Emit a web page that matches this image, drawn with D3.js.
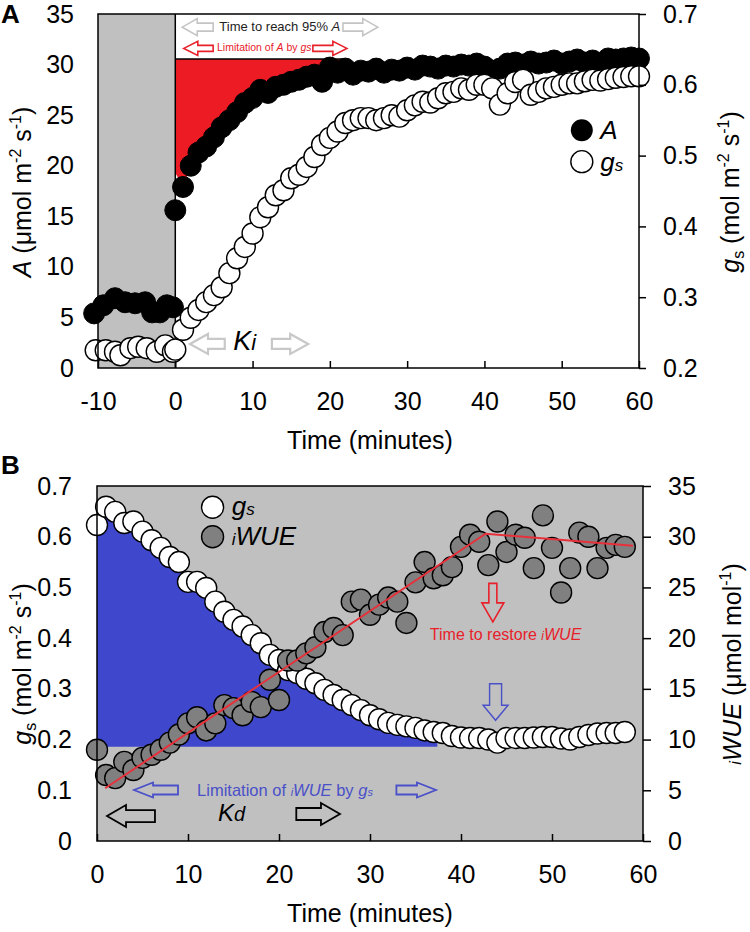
<!DOCTYPE html>
<html>
<head>
<meta charset="utf-8">
<script src="https://cdn.jsdelivr.net/npm/d3@7"></script>
<style>
body { margin: 0; background: #fff; }
svg text { font-family: "Liberation Sans", Arial, sans-serif; }
</style>
</head>
<body>
<svg id="chart"></svg>
<script>
// ---- panel A: light induction (A and gs) ----
const preTimeA = [-10.5, -9.3, -7.8, -6.5, -5.2, -3.9, -3.0, -2.0, -1.1, -0.3];
const preA = [5.4, 6.2, 6.9, 6.5, 6.4, 6.5, 5.5, 5.5, 6.2, 6.0];
const preTimeGs = [-10.3, -9.0, -7.8, -7.1, -5.8, -4.8, -3.7, -2.4, -1.3, -0.3];
const preGs = [0.225, 0.225, 0.223, 0.218, 0.228, 0.230, 0.228, 0.223, 0.232, 0.223];
const minutesA = d3.range(0, 61);
const assimA = [15.6, 17.9, 20.0, 21.3, 21.9, 22.8, 23.8, 24.5, 25.3, 26.2,
  26.7, 27.5, 27.2, 27.8, 28.0, 28.3, 28.5, 28.8, 29.0, 28.3,
  29.7, 29.2, 29.6, 29.0, 29.4, 29.3, 29.6, 29.2, 29.5, 29.4,
  29.7, 29.5, 29.9, 29.8, 29.6, 29.9, 29.8, 30.0, 29.9, 30.1,
  29.8, 29.4, 29.6, 30.1, 30.2, 30.0, 30.3, 30.1, 30.2, 30.4,
  30.1, 30.3, 30.5, 30.2, 30.4, 30.1, 30.6, 30.5, 30.6, 30.7, 30.6];
const gsA = [0.226, 0.254, 0.271, 0.282, 0.293, 0.303, 0.314, 0.334, 0.355, 0.371,
  0.390, 0.413, 0.427, 0.444, 0.451, 0.468, 0.473, 0.484, 0.498, 0.515,
  0.525, 0.534, 0.546, 0.550, 0.553, 0.553, 0.550, 0.553, 0.557, 0.555,
  0.564, 0.571, 0.576, 0.575, 0.581, 0.588, 0.590, 0.595, 0.593, 0.600,
  0.600, 0.595, 0.572, 0.588, 0.604, 0.607, 0.586, 0.590, 0.595, 0.597,
  0.600, 0.602, 0.602, 0.605, 0.607, 0.606, 0.608, 0.610, 0.611, 0.612, 0.612];
const a95 = 30.55;      // 95% of steady-state A
const limitEndA = 22;   // end of red limitation area (min)

// ---- panel B: closure (gs and iWUE) ----
const minutesB = d3.range(0, 59);
const gsB = [0.623, 0.659, 0.649, 0.627, 0.630, 0.610, 0.593, 0.578, 0.560, 0.550,
  0.511, 0.511, 0.499, 0.472, 0.452, 0.436, 0.423, 0.406, 0.390, 0.367,
  0.357, 0.337, 0.331, 0.320, 0.311, 0.298, 0.288, 0.278, 0.268, 0.258,
  0.248, 0.240, 0.233, 0.229, 0.226, 0.223, 0.218, 0.215, 0.213, 0.207,
  0.204, 0.203, 0.203, 0.200, 0.194, 0.203, 0.203, 0.203, 0.204, 0.205,
  0.205, 0.202, 0.200, 0.205, 0.209, 0.212, 0.213, 0.213, 0.215];
const wueB = [9.0, 6.5, 6.2, 7.8, 7.0, 8.2, 8.5, 9.0, 9.7, 10.5,
  11.6, 12.2, 10.9, 11.6, 13.4, 13.1, 12.4, 13.7, 13.2, 15.9,
  13.9, 17.8, 17.8, 18.5, 19.1, 20.6, 21.0, 20.3, 23.6, 23.8,
  22.3, 23.3, 24.0, 23.6, 21.5, 25.5, 27.5, 25.9, 26.2, 27.0,
  29.0, 30.2, 29.5, 27.2, 31.5, 28.5, 30.2, 29.9, 26.9, 32.1,
  28.9, 24.5, 26.9, 30.4, 30.0, 26.9, 28.9, 29.2, 29.0];
const fitTime = [0.9, 42.7, 58.9];
const fitWue = [5.2, 30.3, 29.1];
const blueEnd = 37.4;
const blueFloor = 0.186;

const ticksA = d3.range(0, 36, 5);
const ticksGsA = [0.2, 0.3, 0.4, 0.5, 0.6, 0.7];
const ticksTimeA = [-10, 0, 10, 20, 30, 40, 50, 60];
const ticksGsB = [0, 0.1, 0.2, 0.3, 0.4, 0.5, 0.6, 0.7];
const ticksWue = d3.range(0, 36, 5);
const ticksTimeB = [0, 10, 20, 30, 40, 50, 60];

const W = 750, H = 932;
const svg = d3.select("#chart").attr("width", W).attr("height", H);

const RED = "#e8202a", BLUE = "#4a50c8", GREY_BG = "#c0c0c0";

// scales
const xA = d3.scaleLinear().domain([-10, 60]).range([98, 639]);
const yA = d3.scaleLinear().domain([0, 35]).range([368, 14]);
const yGsA = d3.scaleLinear().domain([0.2, 0.7]).range([368, 14]);
const xB = d3.scaleLinear().domain([0, 60]).range([97, 643]);
const yGsB = d3.scaleLinear().domain([0, 0.7]).range([841, 486]);
const yW = d3.scaleLinear().domain([0, 35]).range([841, 486]);

// text with italic / super / subscript parts
function rich(sel, parts, size) {
  let shift = 0;
  parts.forEach(p => {
    const target = p.sup ? -size * 0.4 : p.sub ? size * 0.18 : 0;
    sel.append("tspan")
      .attr("dy", target - shift)
      .attr("font-size", p.sup || p.sub ? size * 0.64 : (p.size || size))
      .attr("font-style", p.it ? "italic" : null)
      .text(p.t);
    shift = target;
  });
  return sel;
}

function hArrow(g, x1, x2, y, sh, hh, hl, color, sw) {
  const s = x2 > x1 ? 1 : -1, n = x2 - s * hl;
  const pts = [[x1, y - sh / 2], [n, y - sh / 2], [n, y - hh / 2], [x2, y],
    [n, y + hh / 2], [n, y + sh / 2], [x1, y + sh / 2]];
  g.append("path").attr("d", "M" + pts.join("L") + "Z")
    .attr("fill", "none").attr("stroke", color).attr("stroke-width", sw);
}
function vArrow(g, x, y1, y2, sw_, hw, hl, color, sw) {
  const n = y2 - hl;
  const pts = [[x - sw_ / 2, y1], [x - sw_ / 2, n], [x - hw / 2, n], [x, y2],
    [x + hw / 2, n], [x + sw_ / 2, n], [x + sw_ / 2, y1]];
  g.append("path").attr("d", "M" + pts.join("L") + "Z")
    .attr("fill", "none").attr("stroke", color).attr("stroke-width", sw);
}

function styleAxis(g) {
  g.select(".domain").remove();
  g.selectAll(".tick line").attr("stroke", "#000").attr("stroke-width", 1.5);
  g.selectAll(".tick text").attr("font-size", 25).attr("fill", "#000")
    .attr("font-family", "'Liberation Sans', Arial, sans-serif");
}
const plain = d => String(d);   // hyphen minus, like the original

// ================= Panel A =================
const gA = svg.append("g");
gA.append("rect").attr("x", xA(-10)).attr("y", yA(35))
  .attr("width", xA(0) - xA(-10)).attr("height", yA(0) - yA(35)).attr("fill", GREY_BG);

// red limitation area
const redData = minutesA.map((t, i) => ({ t, a: assimA[i] }))
  .filter(d => d.t >= 1 && d.t <= limitEndA);
redData.unshift({ t: 0, a: assimA[1] + 1.4 });
gA.append("path").datum(redData)
  .attr("fill", "#ed1c24")
  .attr("d", d3.area().x(d => xA(d.t)).y0(d => yA(Math.min(d.a, a95))).y1(yA(a95)));
gA.append("line").attr("x1", xA(0)).attr("x2", xA(limitEndA))
  .attr("y1", yA(a95)).attr("y2", yA(a95)).attr("stroke", "#000").attr("stroke-width", 1.5);
gA.append("line").attr("x1", xA(0)).attr("x2", xA(0))
  .attr("y1", yA(35)).attr("y2", yA(0)).attr("stroke", "#000").attr("stroke-width", 1.5);

// annotations A
hArrow(gA, xA(4.9), xA(0.9), yA(33.7), 8, 17, 15, "#c4c4c4", 1.6);
hArrow(gA, xA(21.7), xA(26.2), yA(33.7), 8, 17, 15, "#c4c4c4", 1.6);
rich(gA.append("text").attr("x", xA(5.7)).attr("y", yA(33.3)).attr("fill", "#222"),
  [{ t: "Time to reach 95% " }, { t: "A", it: true }], 13);
hArrow(gA, xA(4.9), xA(1.1), yA(31.6), 6, 14, 14, RED, 1.6);
hArrow(gA, xA(17.8), xA(22.2), yA(31.6), 6, 14, 14, RED, 1.6);
rich(gA.append("text").attr("x", xA(5.4)).attr("y", yA(31.3)).attr("fill", RED),
  [{ t: "Limitation of " }, { t: "A", it: true }, { t: " by " }, { t: "gs", it: true }], 10.5);

hArrow(gA, xA(6.4), xA(1.9), yGsA(0.234), 10, 20, 18, "#c8c8c8", 2.2);
hArrow(gA, xA(12.5), xA(17.2), yGsA(0.234), 10, 20, 18, "#c8c8c8", 2.2);
rich(gA.append("text").attr("x", xA(7.5)).attr("y", yGsA(0.226)),
  [{ t: "K", it: true }, { t: "i", it: true, size: 22 }], 27);

// A points then gs points
const ptsA = preTimeA.map((t, i) => ({ t, v: preA[i] }))
  .concat(minutesA.map((t, i) => ({ t, v: assimA[i] })));
gA.selectAll("circle.a").data(ptsA).enter().append("circle").attr("class", "a")
  .attr("cx", d => xA(d.t)).attr("cy", d => yA(d.v)).attr("r", 10.5)
  .attr("fill", "#000").attr("stroke", "#000");
const ptsGs = preTimeGs.map((t, i) => ({ t, v: preGs[i] }))
  .concat(minutesA.map((t, i) => ({ t, v: gsA[i] })));
gA.selectAll("circle.g").data(ptsGs).enter().append("circle").attr("class", "g")
  .attr("cx", d => xA(d.t)).attr("cy", d => yGsA(d.v)).attr("r", 10.5)
  .attr("fill", "#fff").attr("stroke", "#000").attr("stroke-width", 1.4);

// legend A
gA.append("circle").attr("cx", xA(52.6)).attr("cy", yA(23.5)).attr("r", 11).attr("fill", "#000");
gA.append("circle").attr("cx", xA(52.6)).attr("cy", yA(20.4)).attr("r", 11)
  .attr("fill", "#fff").attr("stroke", "#000").attr("stroke-width", 1.4);
rich(gA.append("text").attr("x", xA(55)).attr("y", yA(22.6)), [{ t: "A", it: true }], 26);
rich(gA.append("text").attr("x", xA(55)).attr("y", yA(19.5)),
  [{ t: "g", it: true }, { t: "s", it: true, size: 17 }], 26);

// frame + axes A
gA.append("rect").attr("x", xA(-10)).attr("y", yA(35))
  .attr("width", xA(60) - xA(-10)).attr("height", yA(0) - yA(35))
  .attr("fill", "none").attr("stroke", "#000").attr("stroke-width", 1.5);
gA.append("g").attr("transform", `translate(0,${yA(0)})`)
  .call(d3.axisBottom(xA).tickValues(ticksTimeA).tickFormat(plain).tickSizeInner(-7).tickSizeOuter(0).tickPadding(24))
  .call(styleAxis);
gA.append("g").attr("transform", `translate(${xA(-10)},0)`)
  .call(d3.axisLeft(yA).tickValues(ticksA).tickSize(0).tickPadding(24))
  .call(styleAxis);
gA.append("g").attr("transform", `translate(${xA(60)},0)`)
  .call(d3.axisRight(yGsA).tickValues(ticksGsA).tickFormat(d3.format(".1f")).tickSizeInner(7).tickSizeOuter(0).tickPadding(17))
  .call(styleAxis);

rich(gA.append("text").attr("transform", "translate(31,192) rotate(-90)").attr("text-anchor", "middle"),
  [{ t: "A", it: true }, { t: " (μmol m" }, { t: "-2", sup: true }, { t: " s" }, { t: "-1", sup: true }, { t: ")" }], 25);
rich(gA.append("text").attr("transform", "translate(739,192) rotate(-90)").attr("text-anchor", "middle"),
  [{ t: "g", it: true }, { t: "s", sub: true }, { t: " (mol m" }, { t: "-2", sup: true }, { t: " s" }, { t: "-1", sup: true }, { t: ")" }], 25);
gA.append("text").attr("x", 370).attr("y", 449).attr("text-anchor", "middle")
  .attr("font-size", 25).text("Time (minutes)");
gA.append("text").attr("x", 1).attr("y", 23).attr("font-size", 26)
  .attr("font-weight", "bold").text("A");

// ================= Panel B =================
const gB = svg.append("g");
gB.append("rect").attr("x", xB(0)).attr("y", yW(35))
  .attr("width", xB(60) - xB(0)).attr("height", yW(0) - yW(35)).attr("fill", GREY_BG);

const blueData = minutesB.map((t, i) => ({ t, g: gsB[i] })).filter(d => d.t <= 37);
blueData.push({ t: blueEnd, g: gsB[37] });
gB.append("path").datum(blueData).attr("fill", "#3f48cc")
  .attr("d", d3.area().x(d => xB(d.t)).y0(yGsB(blueFloor)).y1(d => yGsB(d.g)));

// annotations B
vArrow(gB, xB(43.5), yW(25.4), yW(21.6), 8, 22, 19, RED, 1.6);
rich(gB.append("text").attr("x", xB(44.9)).attr("y", yW(19.8)).attr("text-anchor", "middle").attr("fill", RED),
  [{ t: "Time to restore " }, { t: "i", it: true, size: 12 }, { t: "WUE", it: true }], 16);
vArrow(gB, xB(43.8), yW(15.5), yW(11.9), 12, 25, 15, BLUE, 1.4);
hArrow(gB, xB(8.9), xB(4.07), yW(5.03), 9, 15, 19, BLUE, 1.8);
hArrow(gB, xB(32.9), xB(37.25), yW(5.03), 9, 15, 19, BLUE, 1.8);
rich(gB.append("text").attr("x", xB(11)).attr("y", yW(4.44)).attr("fill", BLUE),
  [{ t: "Limitation of " }, { t: "i", it: true, size: 11 }, { t: "WUE", it: true }, { t: " by " },
   { t: "g", it: true }, { t: "s", it: true, size: 11 }], 16.5);
hArrow(gB, xB(6.37), xB(1.1), yW(2.46), 12, 22, 19, "#000", 1.8);
hArrow(gB, xB(21.9), xB(26.7), yW(2.66), 12, 22, 19, "#000", 1.8);
rich(gB.append("text").attr("x", xB(13.3)).attr("y", yW(1.97)),
  [{ t: "K", it: true }, { t: "d", it: true, size: 20 }], 24);

// points B
gB.selectAll("circle.g").data(minutesB.map((t, i) => ({ t, v: gsB[i] }))).enter()
  .append("circle").attr("class", "g")
  .attr("cx", d => xB(d.t)).attr("cy", d => yGsB(d.v)).attr("r", 10.5)
  .attr("fill", "#fff").attr("stroke", "#000").attr("stroke-width", 1.4);
gB.selectAll("circle.w").data(minutesB.map((t, i) => ({ t, v: wueB[i] }))).enter()
  .append("circle").attr("class", "w")
  .attr("cx", d => xB(d.t)).attr("cy", d => yW(d.v)).attr("r", 10.5)
  .attr("fill", "#808080").attr("stroke", "#000").attr("stroke-width", 1.4);
gB.append("path").datum(fitTime.map((t, i) => [t, fitWue[i]]))
  .attr("fill", "none").attr("stroke", "#e8303a").attr("stroke-width", 2)
  .attr("d", d3.line().x(d => xB(d[0])).y(d => yW(d[1])));

// legend B
gB.append("circle").attr("cx", xB(12.7)).attr("cy", yW(32.9)).attr("r", 11)
  .attr("fill", "#fff").attr("stroke", "#000").attr("stroke-width", 1.4);
gB.append("circle").attr("cx", xB(12.7)).attr("cy", yW(30.0)).attr("r", 11)
  .attr("fill", "#808080").attr("stroke", "#000").attr("stroke-width", 1.4);
rich(gB.append("text").attr("x", xB(14.8)).attr("y", yW(32.1)),
  [{ t: "g", it: true }, { t: "s", it: true, size: 17 }], 26);
rich(gB.append("text").attr("x", xB(14.8)).attr("y", yW(29.2)),
  [{ t: "i", it: true, size: 17 }, { t: "WUE", it: true }], 26);

// frame + axes B
gB.append("rect").attr("x", xB(0)).attr("y", yW(35))
  .attr("width", xB(60) - xB(0)).attr("height", yW(0) - yW(35))
  .attr("fill", "none").attr("stroke", "#000").attr("stroke-width", 1.5);
gB.append("g").attr("transform", `translate(0,${yW(0)})`)
  .call(d3.axisBottom(xB).tickValues(ticksTimeB).tickFormat(plain).tickSizeInner(-7).tickSizeOuter(0).tickPadding(24))
  .call(styleAxis);
gB.append("g").attr("transform", `translate(${xB(0)},0)`)
  .call(d3.axisLeft(yGsB).tickValues(ticksGsB).tickFormat(d => d === 0 ? "0" : d3.format(".1f")(d)).tickSize(0).tickPadding(25))
  .call(styleAxis);
gB.append("g").attr("transform", `translate(${xB(60)},0)`)
  .call(d3.axisRight(yW).tickValues(ticksWue).tickSizeInner(8).tickSizeOuter(0).tickPadding(17))
  .call(styleAxis);

rich(gB.append("text").attr("transform", "translate(31,664) rotate(-90)").attr("text-anchor", "middle"),
  [{ t: "g", it: true }, { t: "s", sub: true }, { t: " (mol m" }, { t: "-2", sup: true }, { t: " s" }, { t: "-1", sup: true }, { t: ")" }], 25);
rich(gB.append("text").attr("transform", "translate(741,664) rotate(-90)").attr("text-anchor", "middle"),
  [{ t: "i", it: true, size: 16 }, { t: "WUE", it: true }, { t: " (μmol mol" }, { t: "-1", sup: true }, { t: ")" }], 25);
gB.append("text").attr("x", 370).attr("y", 922).attr("text-anchor", "middle")
  .attr("font-size", 25).text("Time (minutes)");
gB.append("text").attr("x", 1).attr("y", 474).attr("font-size", 26)
  .attr("font-weight", "bold").text("B");
</script>
</body>
</html>
